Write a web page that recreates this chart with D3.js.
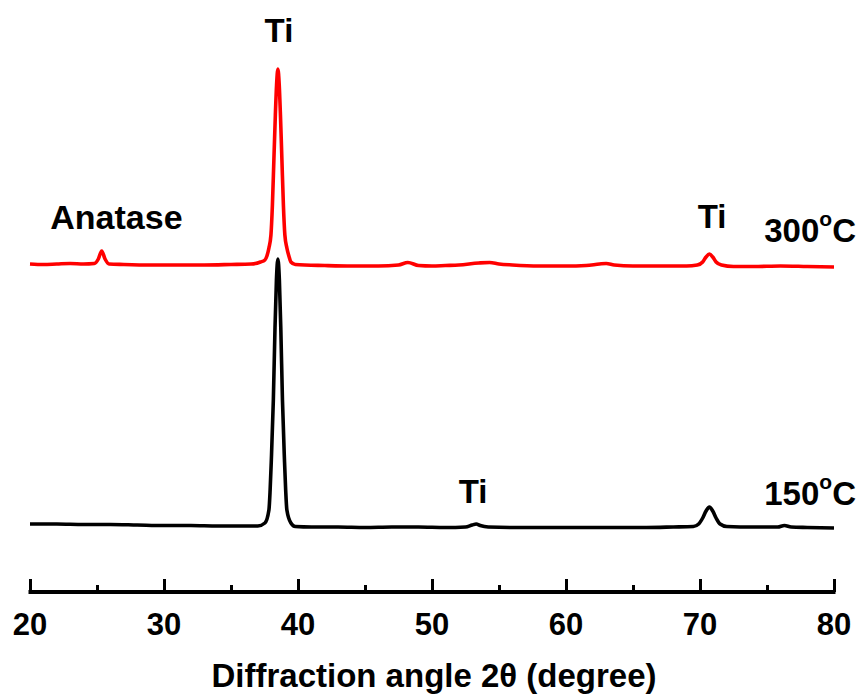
<!DOCTYPE html>
<html>
<head>
<meta charset="utf-8">
<script src="https://cdn.jsdelivr.net/npm/d3@7/dist/d3.min.js"></script>
<style>
  html, body { margin: 0; padding: 0; background: #fff; }
  svg { display: block; }
  text { font-family: Arial, "Liberation Sans", sans-serif; font-weight: bold; fill: #000; }
</style>
</head>
<body>
<svg id="chart" width="860" height="695"></svg>
<script>
// ---------------- data (2θ in degrees, intensity in a.u.) ----------------
const angle300 = [20, 21, 22, 23, 24, 24.8, 25.1, 25.35, 25.6, 25.9, 27, 29, 31, 33, 35, 36.5, 37.2, 37.53, 37.68, 37.83, 37.98, 38.09, 38.2, 38.31, 38.4, 38.5, 38.6, 38.69, 38.8, 38.91, 39.02, 39.17, 39.32, 39.47, 39.8, 42, 44, 46, 47.5, 48.2, 49, 50, 51, 52, 53.5, 54.3, 55, 56, 58, 60, 61.5, 62.5, 63, 63.6, 65, 67, 69, 69.8, 70.2, 70.45, 70.7, 70.95, 71.2, 71.6, 72.5, 74, 76, 78, 80];
const intensity300 = [328, 327.5, 328, 328.5, 328, 328.5, 333, 341, 333, 328, 327.5, 327, 327, 327, 327.5, 328, 330, 332, 336, 344, 357, 387, 432, 477, 507, 523, 507, 477, 432, 387, 357, 344, 336, 330, 327.5, 326.5, 326, 326, 327, 329.5, 326.5, 326, 326.5, 327, 329, 329.5, 328, 327, 326, 326, 326.5, 328, 328.5, 327, 326, 326, 326, 327, 330, 335, 338, 335, 330, 327, 325.5, 325.5, 326, 325.5, 325];

const angle150 = [20, 22, 24, 26, 28, 30, 32, 34, 36, 37, 37.53, 37.83, 37.92, 38.01, 38.16, 38.28, 38.39, 38.5, 38.61, 38.72, 38.84, 38.99, 39.08, 39.17, 39.47, 39.8, 41, 43, 45, 47, 49, 51, 52.5, 53, 53.3, 53.6, 54.2, 56, 58, 60, 62, 64, 66, 68, 69.5, 69.9, 70.2, 70.45, 70.7, 70.95, 71.2, 71.5, 72, 74, 75.8, 76.3, 76.8, 78, 80];
const intensity150 = [68, 68, 67.5, 67.5, 67, 66.5, 66.5, 66, 66, 66, 69, 82, 102, 132, 192, 262, 312, 333, 312, 262, 192, 132, 102, 82, 69, 65.5, 65, 65, 64.5, 65, 65, 64.5, 65, 67, 68, 66.5, 65, 64.5, 64.5, 64.5, 64.5, 64.5, 64.5, 65, 65.5, 68, 74, 81, 85, 81, 74, 68, 65.5, 65, 65, 66.5, 65, 64.5, 64];

const xTicks = [20, 30, 40, 50, 60, 70, 80];
const xMinorTicks = [25, 35, 45, 55, 65, 75];

const peakLabels = [
  { text: "Ti", angle: 38.58, value: 550 },
  { text: "Anatase", angle: 26.45, value: 363 },
  { text: "Ti", angle: 70.9, value: 364 },
  { text: "Ti", angle: 53.06, value: 89 }
];
const sampleLabels = [
  { temp: "300", value: 350 },
  { temp: "150", value: 87 }
];
const xTitle = "Diffraction angle 2θ (degree)";

// ---------------- drawing ----------------
const svg = d3.select("#chart");
const axisY = 592;
const x = d3.scaleLinear().domain([20, 80]).range([30, 834]);
const y = d3.scaleLinear().domain([0, 532]).range([axisY, 60]);

const line = d3.line()
  .x(d => x(d[0]))
  .y(d => y(d[1]))
  .curve(d3.curveMonotoneX);

svg.append("path")
  .datum(d3.zip(angle150, intensity150))
  .attr("d", line)
  .attr("fill", "none")
  .attr("stroke", "#000")
  .attr("stroke-width", 3.6)
  .attr("stroke-linejoin", "round");

svg.append("path")
  .datum(d3.zip(angle300, intensity300))
  .attr("d", line)
  .attr("fill", "none")
  .attr("stroke", "#ff0000")
  .attr("stroke-width", 3.6)
  .attr("stroke-linejoin", "round");

// x axis (ticks pointing up, inside)
const axisG = svg.append("g").attr("transform", `translate(0,${axisY})`);
axisG.call(d3.axisTop(x).tickValues(xTicks).tickSize(13).tickFormat(""))
  .call(g => g.select(".domain").remove());
axisG.selectAll(".tick line").attr("stroke", "#000").attr("stroke-width", 3);
const minorG = svg.append("g").attr("transform", `translate(0,${axisY})`);
minorG.call(d3.axisTop(x).tickValues(xMinorTicks).tickSize(7).tickFormat(""))
  .call(g => g.select(".domain").remove());
minorG.selectAll(".tick line").attr("stroke", "#000").attr("stroke-width", 3);
svg.append("line")
  .attr("x1", x(20) - 1.5).attr("x2", x(80) + 1.5)
  .attr("y1", axisY).attr("y2", axisY)
  .attr("stroke", "#000").attr("stroke-width", 4);

svg.append("g").selectAll("text")
  .data(xTicks).join("text")
  .attr("x", d => x(d))
  .attr("y", 635)
  .attr("text-anchor", "middle")
  .attr("font-size", 31)
  .text(d => d);

svg.append("text")
  .attr("x", 434)
  .attr("y", 687)
  .attr("text-anchor", "middle")
  .attr("font-size", 33)
  .text(xTitle);

// peak labels
svg.append("g").selectAll("text")
  .data(peakLabels).join("text")
  .attr("x", d => x(d.angle))
  .attr("y", d => y(d.value))
  .attr("text-anchor", "middle")
  .attr("font-size", d => d.text === "Anatase" ? 34 : 33)
  .text(d => d.text);

// sample labels
const sl = svg.append("g").selectAll("text")
  .data(sampleLabels).join("text")
  .attr("x", 856)
  .attr("y", d => y(d.value))
  .attr("text-anchor", "end")
  .attr("font-size", 33);
sl.append("tspan").text(d => d.temp);
sl.append("tspan").attr("font-size", 21).attr("dy", -16).text("o");
sl.append("tspan").attr("dy", 16).text("C");
</script>
</body>
</html>
